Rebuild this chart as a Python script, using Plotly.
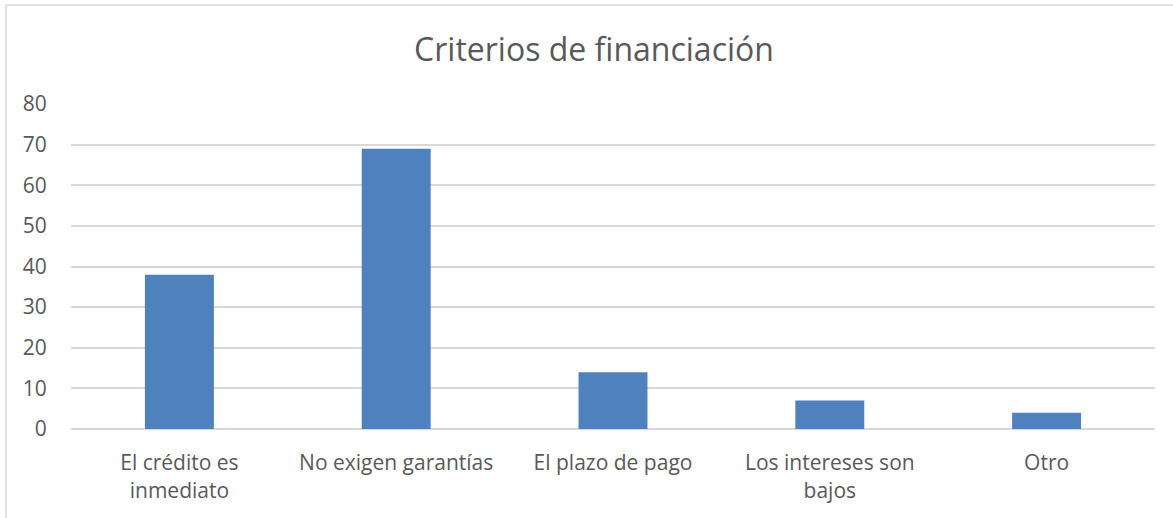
import plotly.graph_objects as go

categories = ["El crédito es<br>inmediato", "No exigen garantías", "El plazo de pago",
              "Los intereses son<br>bajos", "Otro"]
values = [38, 69, 14, 7, 4]
y_ticks = [0, 10, 20, 30, 40, 50, 60, 70, 80]

W, H = 1173, 518
L, R, T, B = 71, 18, 104, 89
pw = W - L - R
ph = H - T - B

fig = go.Figure(go.Bar(x=categories, y=values, marker=dict(color="#4F81BD", line=dict(width=0)),
                       width=0.318))

font_family = "Open Sans"
fig.update_layout(
    width=W, height=H,
    margin=dict(l=L, r=R, t=T, b=B),
    paper_bgcolor="white", plot_bgcolor="white",
    showlegend=False,
    title=dict(text="Criterios de financiación", x=594 / W, xanchor="center",
               y=1 - 50 / H, yanchor="middle",
               font=dict(family=font_family, size=32, color="#595959")),
    font=dict(family=font_family, color="#595959", size=21),
    xaxis=dict(showgrid=False, showline=False, ticks="outside", ticklen=15,
               tickcolor="rgba(0,0,0,0)", tickfont=dict(size=21, color="#595959"),
               tickangle=0),
    yaxis=dict(range=[0, 80], tickvals=y_ticks, showgrid=True, gridcolor="#D9D9D9", gridwidth=1.5,
               zeroline=True, zerolinecolor="#D9D9D9", zerolinewidth=1.5,
               ticks="outside", ticklen=19, tickcolor="rgba(0,0,0,0)",
               tickfont=dict(size=21, color="#595959")),
    shapes=[
        dict(type="line", xref="paper", yref="paper",
             x0=(6 - L) / pw, x1=(W - L) / pw + 0.01, y0=1 + (T - 5) / ph, y1=1 + (T - 5) / ph,
             line=dict(color="#D9D9D9", width=1.5)),
        dict(type="line", xref="paper", yref="paper",
             x0=(6 - L) / pw, x1=(6 - L) / pw, y0=1 + (T - 5) / ph, y1=-(B + 5) / ph,
             line=dict(color="#D9D9D9", width=1.5)),
    ],
)
fig.write_html("out.html", config={"displayModeBar": False},
               post_script="document.body.style.margin='0';document.body.style.overflow='hidden';")
